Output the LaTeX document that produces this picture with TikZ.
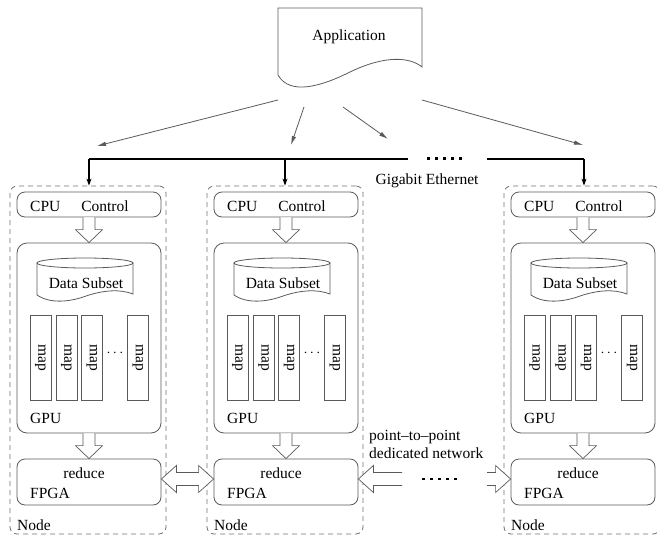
\documentclass[tikz,border=0pt]{standalone}
\usepackage{fontspec}
\setmainfont{Liberation Serif}
\usetikzlibrary{calc,arrows.meta}

\definecolor{linegray}{HTML}{5A5A5A}
\definecolor{dashgray}{HTML}{707070}

\tikzset{
  txt/.style={inner sep=0pt, font=\fontsize{15.5}{18}\selectfont},
  unitbox/.style={draw=linegray, line width=0.8pt, rounded corners=8pt, inner sep=0pt},
  nodebox/.style={draw=dashgray, line width=0.8pt, dash pattern=on 5pt off 4pt,
                  rounded corners=7pt, minimum width=156, minimum height=348, inner sep=0pt},
  mapbox/.style={draw=linegray, line width=0.7pt, minimum width=21, minimum height=85, inner sep=0pt},
  hollow/.style={draw=linegray, line width=0.7pt, fill=white, line join=miter},
  bus/.style={line width=2.2pt, black},
  busdrop/.style={line width=2pt, black, -{Stealth[length=7pt,width=5pt]}},
  feed/.style={draw=linegray, line width=0.8pt, -{Latex[length=9pt,width=4.5pt]}},
  dotrow/.style={line width=2.6pt, dash pattern=on 3pt off 5pt, black},
}

\begin{document}
\begin{tikzpicture}[x=1pt,y=-1pt]
\useasboundingbox (0,0) rectangle (657,536);

% application document
\node[txt] (app) at (349,37) {Application};
\draw[linegray, line width=0.8pt]
  (278,75) -- (278,8) -- (422,8) -- (422,67)
  .. controls (410,57) and (385,55) .. (350,72)
  .. controls (322,86) and (290,96) .. (278,75);

% arrows from the application
\coordinate (s1) at (278,100); \coordinate (e1) at (97,146);
\coordinate (s2) at (304,107); \coordinate (e2) at (291,145);
\coordinate (s3) at (343,107); \coordinate (e3) at (388,139);
\coordinate (s4) at (422,100); \coordinate (e4) at (583,145);
\foreach \k in {1,...,4} \draw[feed] (s\k) -- (e\k);

% the compute nodes
\foreach \o/\i in {0/1,197/2,494/3}{
  \node[nodebox] (node\i) at (88+\o,360) {};
  \node[txt, anchor=base west] (nodelbl\i) at (17+\o,530) {Node};

  % CPU control
  \node[unitbox, minimum width=144, minimum height=25] (cpu\i) at (89+\o,204.5) {};
  \node[txt, anchor=base west] (cputxt\i) at (30+\o,211) {CPU\hspace{21pt}Control};

  % GPU
  \node[unitbox, rounded corners=10pt, minimum width=144, minimum height=190] (gpu\i) at (89+\o,338) {};
  \node[txt, anchor=base west] (gputxt\i) at (30+\o,423.5) {GPU};

  % data subset cylinder
  \draw[linegray, line width=0.8pt] (37+\o,263) -- (37+\o,295)
    .. controls (50+\o,304) and (70+\o,302) .. (86+\o,296)
    .. controls (104+\o,290) and (120+\o,289) .. (133+\o,294) -- (133+\o,263);
  \draw[linegray, line width=0.8pt] (85+\o,263) ellipse [x radius=48, y radius=5];
  \node[txt] (data\i) at (86+\o,283) {Data Subset};

  % map tasks
  \foreach \mx/\m in {40.5/a,66.5/b,92/c,138/d}{
    \node[mapbox] (map\i\m) at (\mx+\o,357.5) {};
    \node[txt, rotate=-90] at (map\i\m) {map};
  }
  \node[txt] (dots\i) at (115+\o,353) {$\cdots$};

  % FPGA
  \node[unitbox, minimum width=144, minimum height=46] (fpga\i) at (89+\o,482) {};
  \node[txt, anchor=base] (redtxt\i) at (84+\o,478) {reduce};
  \node[txt, anchor=base west] (fpgatxt\i) at (30+\o,498.5) {FPGA};

  % hollow arrows CPU -> GPU -> FPGA
  \draw[hollow] ($(cpu\i.south)+(-6,0)$) -- ($(gpu\i.north)+(-6,-13)$) -- ($(gpu\i.north)+(-13.5,-13)$)
    -- (gpu\i.north) -- ($(gpu\i.north)+(13.5,-13)$) -- ($(gpu\i.north)+(6,-13)$) -- ($(cpu\i.south)+(6,0)$);
  \draw[hollow] ($(gpu\i.south)+(-6,0)$) -- ($(fpga\i.north)+(-6,-13)$) -- ($(fpga\i.north)+(-13.5,-13)$)
    -- (fpga\i.north) -- ($(fpga\i.north)+(13.5,-13)$) -- ($(fpga\i.north)+(6,-13)$) -- ($(gpu\i.south)+(6,0)$);
}

% gigabit ethernet bus
\coordinate (busA) at (89,159);
\coordinate (busM) at (285,159);
\coordinate (busB) at (408,159);
\coordinate (busC) at (487,159);
\coordinate (busR) at (584,159);
\coordinate (busD) at (427,158.5);
\coordinate (busE) at (466,158.5);
\draw[bus] (busA) -- (busB);
\draw[bus] (busC) -- (busR);
\draw[busdrop] (busA) -- (busA |- node1.north);
\draw[busdrop] (busM) -- (busM |- node2.north);
\draw[busdrop] (busR) -- (busR |- node3.north);
\draw[dotrow] (busD) -- (busE);
\node[txt, anchor=base] (eth) at (427,184) {Gigabit Ethernet};

% point-to-point links between FPGAs
\coordinate (l1) at ($(fpga1.east)+(0,-3)$);
\coordinate (r2) at ($(fpga2.west)+(0,-3)$);
\draw[hollow] (l1) -- ($(l1)+(15,-13.5)$) -- ($(l1)+(15,-6.5)$) -- ($(r2)+(-15,-6.5)$)
  -- ($(r2)+(-15,-13.5)$) -- (r2) -- ($(r2)+(-15,13.5)$) -- ($(r2)+(-15,6.5)$)
  -- ($(l1)+(15,6.5)$) -- ($(l1)+(15,13.5)$) -- cycle;

\coordinate (t2) at ($(fpga2.east)+(0,-3)$);
\coordinate (p2pL) at (402,479);
\draw[hollow] ($(p2pL)+(0,-6.5)$) -- ($(t2)+(15,-6.5)$) -- ($(t2)+(15,-13.5)$) -- (t2)
  -- ($(t2)+(15,13.5)$) -- ($(t2)+(15,6.5)$) -- ($(p2pL)+(0,6.5)$);

\coordinate (t3) at ($(fpga3.west)+(0,-3)$);
\coordinate (p2pR) at (487,479);
\draw[hollow] ($(p2pR)+(0,-6.5)$) -- ($(t3)+(-15,-6.5)$) -- ($(t3)+(-15,-13.5)$) -- (t3)
  -- ($(t3)+(-15,13.5)$) -- ($(t3)+(-15,6.5)$) -- ($(p2pR)+(0,6.5)$);

\coordinate (p2pD) at (422,479);
\coordinate (p2pE) at (460,479);
\draw[dotrow] (p2pD) -- (p2pE);

\node[txt, anchor=base west] (p2p1) at (369,440) {point--to--point};
\node[txt, anchor=base west] (p2p2) at (369,458) {dedicated network};
\end{tikzpicture}
\end{document}
